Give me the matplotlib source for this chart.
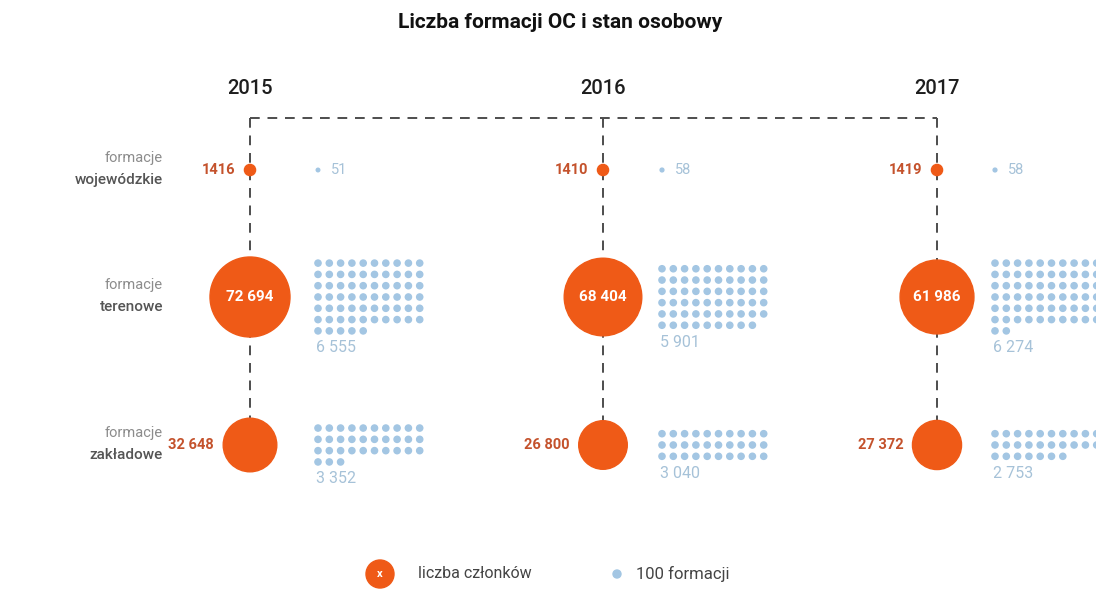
import numpy as np
import matplotlib.pyplot as plt
from matplotlib.patches import Circle

plt.rcParams['font.family'] = ['Roboto', 'DejaVu Sans']

# Data read from the infographic
years = ['2015', '2016', '2017']
rows = ['wojewódzkie', 'terenowe', 'zakładowe']
members_woj = [1416, 1410, 1419]
members_ter = [72694, 68404, 61986]
members_zak = [32648, 26800, 27372]
units_woj = [51, 58, 58]
units_ter = [6555, 5901, 6274]
units_zak = [3352, 3040, 2753]

# Layout (pixel space, y downwards)
W, H = 1096, 591
col_x = [250, 603, 937]
grid_off = [68, 59, 58]
row_y = [170, 297, 445]
r_max = 40
dot_step = 11.3
dot_r = 3.1

orange = '#ef5a17'
orange_txt = '#c4522c'
blue = '#a3c6e3'
blue_txt = '#a6c2d8'
dash_col = '#4d4d4d'


def fmt_num(v):
    s = f'{v:,}'.replace(',', ' ')
    return s if v >= 2000 else str(v)


fig = plt.figure(figsize=(W / 100, H / 100), dpi=100)
ax = fig.add_axes([0, 0, 1, 1])
ax.set_xlim(0, W)
ax.set_ylim(H, 0)
ax.axis('off')

ax.text(560, 23, 'Liczba formacji OC i stan osobowy', ha='center', va='center',
        fontsize=15, fontweight='bold', color='#111111')

for x, y in zip(col_x, years):
    ax.text(x, 88, y, ha='center', va='center', fontsize=14.5,
            fontweight='medium', color='#1e1e1e')

# dashed connector
dash = dict(color=dash_col, lw=1.4, linestyle=(0, (5, 4)), zorder=1)
ax.plot([col_x[0], col_x[-1]], [118, 118], **dash)

members = [members_woj, members_ter, members_zak]
units = [units_woj, units_ter, units_zak]

for i, x in enumerate(col_x):
    r_bottom = r_max * np.sqrt(members_zak[i] / members_ter[0])
    ax.plot([x, x], [118, row_y[2] - r_bottom], **dash)
    for j, y in enumerate(row_y):
        v = members[j][i]
        r = r_max * np.sqrt(v / members_ter[0])
        ax.add_patch(Circle((x, y), r, color=orange, zorder=3))
        if j == 1:
            ax.text(x, y, fmt_num(v), ha='center', va='center', fontsize=11,
                    fontweight='bold', color='white', zorder=4)
        else:
            ax.text(x - r - 9, y, fmt_num(v), ha='right', va='center',
                    fontsize=10.5, fontweight='bold', color=orange_txt)

        # unit dots (1 dot = 100 formations)
        u = units[j][i]
        gx = x + grid_off[i]
        if u < 100:
            ax.add_patch(Circle((gx, y), dot_r * np.sqrt(u / 100) * 0.8,
                                color=blue, zorder=3))
            ax.text(gx + 13, y, str(u), ha='left', va='center', fontsize=10.5,
                    color=blue_txt)
            continue
        n = u // 100
        nrows = int(np.ceil(n / 10))
        top = y - (nrows - 1) * dot_step / 2
        for k in range(n):
            ax.add_patch(Circle((gx + (k % 10) * dot_step, top + (k // 10) * dot_step),
                                dot_r, color=blue, zorder=3))
        ax.text(gx - 2, top + (nrows - 1) * dot_step + 17, fmt_num(u), ha='left',
                va='center', fontsize=11.5, color=blue_txt)

# row labels
for y, name in zip(row_y, rows):
    ax.text(163, y - 12, 'formacje', ha='right', va='center', fontsize=10.5,
            color='#8c8c8c')
    ax.text(163, y + 10, name, ha='right', va='center', fontsize=11,
            fontweight='medium', color='#555555')

# legend
ax.add_patch(Circle((380, 574), 14, color=orange, zorder=3))
ax.text(380, 574, 'x', ha='center', va='center', fontsize=8, fontweight='bold',
        color='white', zorder=4)
ax.text(418, 574, 'liczba członków', ha='left', va='center', fontsize=11.5,
        color='#444444')
ax.add_patch(Circle((617, 574), 4, color=blue, zorder=3))
ax.text(636, 574, '100 formacji', ha='left', va='center', fontsize=12,
        color='#444444')

fig.savefig('out.png', dpi=100, facecolor='white')
